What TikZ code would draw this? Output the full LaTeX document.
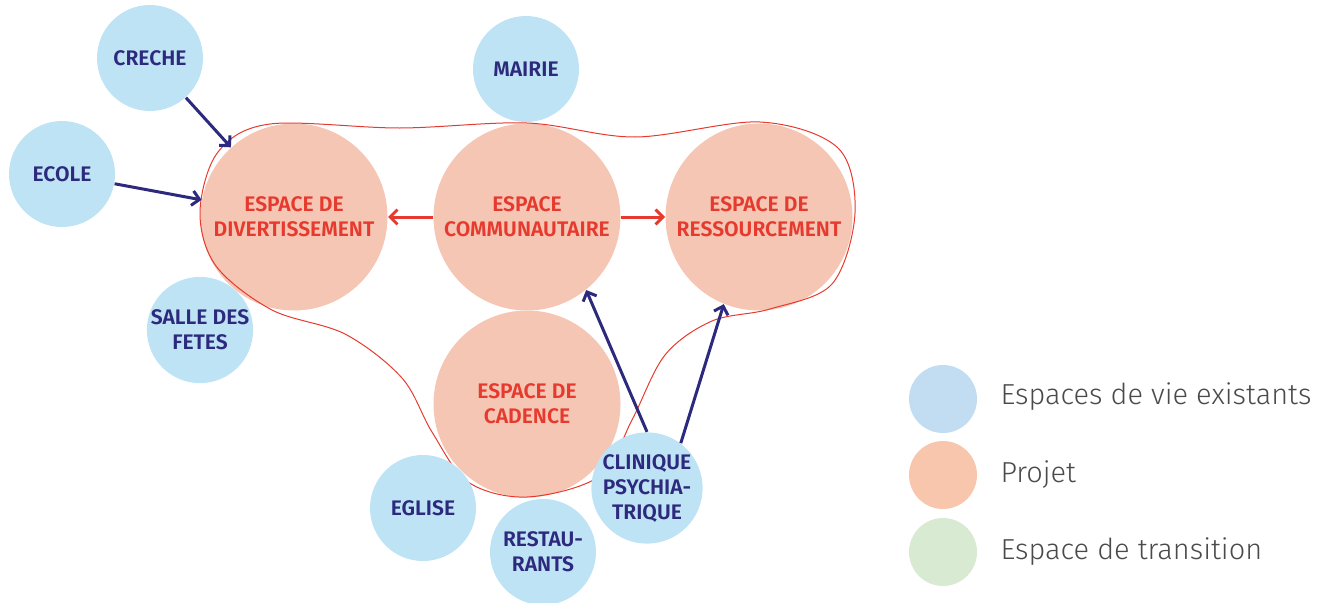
\documentclass[tikz,border=0pt]{standalone}
\usepackage{fontspec}
\setmainfont{Fira Sans}
\newfontfamily\nodefont{Fira Sans SemiBold}
\newfontfamily\legendfont{Fira Sans Light}
\usetikzlibrary{arrows.meta}

\definecolor{saumon}{HTML}{F6C6B5}
\definecolor{ciel}{HTML}{BEE3F5}
\definecolor{marine}{HTML}{2D2A7E}
\definecolor{rouge}{HTML}{E63A2E}
\definecolor{legbleu}{HTML}{C2DCF1}
\definecolor{legsaumon}{HTML}{F8C6AC}
\definecolor{legvert}{HTML}{D9EAD3}
\definecolor{legtexte}{HTML}{4A4A4A}

\tikzset{every picture/.style={line width=0.75pt}}
\tikzset{
  projet/.style={circle, fill=saumon, inner sep=0pt, minimum size=140.25pt, text=rouge, align=center, font=\nodefont\fontsize{15.8}{18.75}\selectfont},
  existant/.style={circle, fill=ciel, inner sep=0pt, minimum size=79.5pt, text=marine, align=center, font=\nodefont\fontsize{15.8}{18.75}\selectfont},
  pastille/.style={circle, inner sep=0pt, minimum size=51pt},
  legende/.style={anchor=west, inner sep=0pt, text=legtexte, font=\legendfont\fontsize{21.7}{24}\selectfont},
  lien/.style={draw=marine, line width=2.25pt, -{Straight Barb[length=5.5pt,width=11pt]}},
  lienrouge/.style={draw=rouge, line width=2.25pt, -{Straight Barb[length=5.5pt,width=11pt]}}
}

\begin{document}
\begin{tikzpicture}[x=0.75pt,y=0.75pt,yscale=-1,xscale=1]
\useasboundingbox (0,0) rectangle (1328,603);

%Shape: Projet circles
\node [projet] (divert) at (294,217) {ESPACE DE\\DIVERTISSEMENT};
\node [projet] (commun) at (527,217) {ESPACE\\COMMUNAUTAIRE};
\node [projet] (ressour) at (759,217) {ESPACE DE\\RESSOURCEMENT};
\node [projet] (cadence) at (527,404) {ESPACE DE\\CADENCE};

%Shape: outline of the project
\draw [rouge, line width=0.75pt] plot [smooth cycle, tension=0.55] coordinates {
  (270,124) (400,128) (527,123) (635,137) (760,122) (838,148) (855,213) (832,284) (770,309)
  (712,321) (665,355) (632,420) (600,476) (527,497) (468,482) (432,432) (402,378) (345,334)
  (272,310) (216,266) (200,212) (218,152)};

%Shape: existing places
\node [existant] (creche) at (150,58) {CRECHE};
\node [existant] (ecole) at (62,174) {ECOLE};
\node [existant] (salle) at (200,330) {SALLE DES\\FETES};
\node [existant] (mairie) at (526,69) {MAIRIE};
\node [existant] (eglise) at (423,508) {EGLISE};
\node [existant] (resto) at (543,552) {RESTAU-\\RANTS};
\node [existant] (clinique) at (647,488) {CLINIQUE\\PSYCHIA-\\TRIQUE};

%Arrows
\draw [lien] (creche) -- (divert);
\draw [lien] (ecole) -- (divert);
\draw [lienrouge] (commun.west) -- (divert.east);
\draw [lienrouge] (commun.east) -- (ressour.west);
\draw [lien] (clinique.north) -- (commun.-51);
\draw [lien] (clinique.53) -- (ressour.-112);

%Legend
\node [pastille, fill=legbleu] (legA) at (943,399) {};
\node [pastille, fill=legsaumon] (legB) at (943,475) {};
\node [pastille, fill=legvert] (legC) at (943,552) {};
\node [legende] (txtA) at (1000,397) {Espaces de vie existants};
\node [legende] (txtB) at (1000,475) {Projet};
\node [legende] (txtC) at (1000,552) {Espace de transition};

\end{tikzpicture}
\end{document}
